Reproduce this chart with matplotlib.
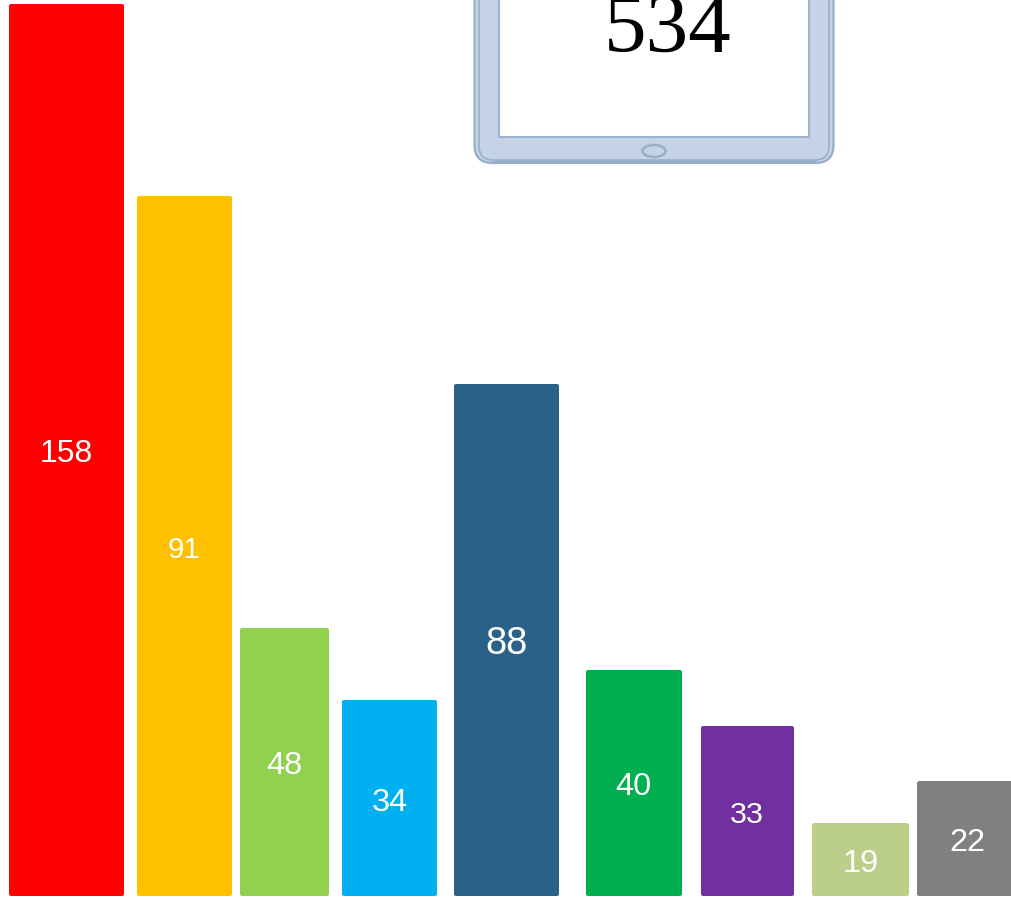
import matplotlib
matplotlib.use('Agg')
import matplotlib.pyplot as plt
from matplotlib.patches import FancyBboxPatch, Ellipse, Rectangle

# printed numbers, and the bar heights as drawn (they do not follow the numbers)
labels = ['158', '91', '48', '34', '88', '40', '33', '19', '22']
heights = [892, 700, 268, 196, 512, 226, 170, 73, 115]
total = '534'

# layout, in pixels of the picture
lefts = [9, 137, 240, 342, 454, 586, 701, 812, 917]
rights = [124, 232, 329, 437, 559, 682, 794, 909, 1030]
label_x = [66, 184, 284.5, 389.5, 506.5, 633, 747, 861, 967]
label_y = [454, 549.5, 766, 803, 644, 787, 815, 863.5, 843]
label_px = [32, 29.5, 32.5, 32.5, 38, 32.5, 30.5, 32.5, 32.5]
colors = ['#FF0000', '#FFC000', '#92D050', '#00B0F0', '#2A6189',
          '#00B050', '#7030A0', '#BBCF8A', '#808080']

BASE = 896
W, H = 1011, 897
DPI = 100
EDGE_PX = 4


def up(py):
    return BASE - py


fig = plt.figure(figsize=(W / DPI, H / DPI), dpi=DPI)
ax = fig.add_axes([0, 0, 1, 1])
ax.set_xlim(0, W)
ax.set_ylim(BASE - H, BASE)
ax.axis('off')

# bars, the thick round-joined edge gives the small rounded corners
for i, h in enumerate(heights):
    ax.bar((lefts[i] + rights[i]) / 2, h - EDGE_PX, width=rights[i] - lefts[i] - EDGE_PX,
           bottom=EDGE_PX / 2, color=colors[i], edgecolor=colors[i],
           linewidth=EDGE_PX * 72 / DPI, joinstyle='round')
    ax.text(label_x[i], up(label_y[i]), labels[i], color='white', ha='center', va='center',
            family='Liberation Sans', fontsize=label_px[i] * 72 / DPI)

# tablet, runs off the top edge
body = FancyBboxPatch((474.5, up(163)), 359, 260, boxstyle='round,pad=0,rounding_size=18',
                      facecolor='#C6D3E6', edgecolor='#98AECB', linewidth=1.6)
ax.add_patch(body)
ax.add_patch(FancyBboxPatch((479, up(160)), 350, 250, boxstyle='round,pad=0,rounding_size=14',
                            facecolor='none', edgecolor='#98AECB', linewidth=1.2))
ax.plot([492, 816], [up(161.5), up(161.5)], color='#98AECB', linewidth=2.2, solid_capstyle='butt')
ax.add_patch(Rectangle((499, up(137)), 310, 240, facecolor='white',
                       edgecolor='#9DB3D0', linewidth=1.5))
ax.add_patch(Ellipse((654, up(151)), 23, 12, facecolor='#C6D3E6',
                     edgecolor='#98AECB', linewidth=1.8))
ax.text(667.5, up(52), total, color='black', ha='center', va='baseline',
        family='Liberation Serif', fontsize=85 * 72 / DPI)

fig.savefig('out.png', dpi=DPI, facecolor='white')
